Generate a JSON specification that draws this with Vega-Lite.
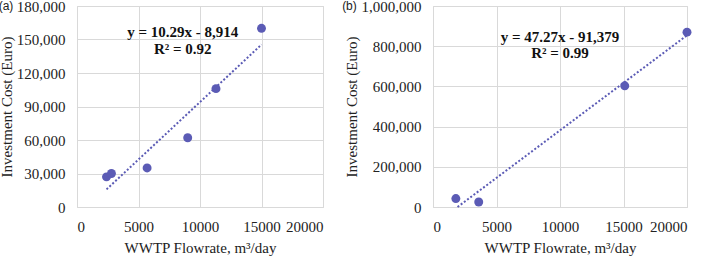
{
  "$schema": "https://vega.github.io/schema/vega-lite/v6.json",
  "padding": {"left": -2, "top": -2, "right": 0, "bottom": 0},
  "spacing": 17,
  "config": {
    "font": "Liberation Serif",
    "view": {"stroke": "#d9d9d9", "strokeWidth": 1},
    "axis": {
      "domain": false, "ticks": false, "grid": true, "gridColor": "#d9d9d9",
      "labelFont": "Liberation Serif", "labelFontSize": 15, "labelColor": "#222",
      "titleFont": "Liberation Serif", "titleFontSize": 15, "titleFontWeight": "normal", "titleColor": "#222",
      "labelPadding": 12
    }
  },
  "datasets": {
    "a_pts": [
      {"flow": 2400, "cost": 27000},
      {"flow": 2800, "cost": 30000},
      {"flow": 5700, "cost": 35000},
      {"flow": 9000, "cost": 62000},
      {"flow": 11300, "cost": 106000},
      {"flow": 15000, "cost": 160000}
    ],
    "a_trend": [
      {"flow": 2400, "cost": 15782},
      {"flow": 15000, "cost": 145436}
    ],
    "a_text": [
      {"flow": 8600, "cost": 156700, "label": "y = 10.29x - 8,914"},
      {"flow": 8600, "cost": 141500, "label": "R² = 0.92"}
    ],
    "a_tag": [{"flow": -5770, "cost": 180000, "label": "(a)"}],
    "b_pts": [
      {"flow": 1800, "cost": 42000},
      {"flow": 3600, "cost": 25000},
      {"flow": 15100, "cost": 603000},
      {"flow": 20000, "cost": 870000}
    ],
    "b_trend": [
      {"flow": 1933, "cost": 0},
      {"flow": 20000, "cost": 854021}
    ],
    "b_text": [
      {"flow": 10000, "cost": 845800, "label": "y = 47.27x - 91,379"},
      {"flow": 10000, "cost": 766000, "label": "R² = 0.99"}
    ],
    "b_tag": [{"flow": -6000, "cost": 1000000, "label": "(b)"}]
  },
  "hconcat": [
    {
      "width": 246, "height": 201,
      "encoding": {
        "x": {"field": "flow", "type": "quantitative",
              "scale": {"domain": [0, 20000], "nice": false},
              "axis": {"values": [0, 5000, 10000, 15000, 20000], "format": "d", "title": "WWTP Flowrate, m³/day", "titlePadding": 6}},
        "y": {"field": "cost", "type": "quantitative",
              "scale": {"domain": [0, 180000], "nice": false},
              "axis": {"values": [0, 30000, 60000, 90000, 120000, 150000, 180000], "format": ",d", "title": "Investment Cost (Euro)", "titlePadding": 2}}
      },
      "layer": [
        {"data": {"name": "a_trend"}, "mark": {"type": "line", "color": "#5b5bb5", "strokeWidth": 2, "strokeDash": [2, 2]}},
        {"data": {"name": "a_pts"}, "mark": {"type": "circle", "color": "#5b5bb5", "opacity": 1, "size": 80}},
        {"data": {"name": "a_text"}, "mark": {"type": "text", "fontWeight": "bold", "fontSize": 15, "color": "#111"}, "encoding": {"text": {"field": "label"}}},
        {"data": {"name": "a_tag"}, "mark": {"type": "text", "font": "Liberation Sans", "fontSize": 12, "color": "#222"}, "encoding": {"text": {"field": "label"}}}
      ]
    },
    {
      "width": 254, "height": 201,
      "encoding": {
        "x": {"field": "flow", "type": "quantitative",
              "scale": {"domain": [0, 20000], "nice": false},
              "axis": {"values": [0, 5000, 10000, 15000, 20000], "format": "d", "title": "WWTP Flowrate, m³/day", "titlePadding": 6}},
        "y": {"field": "cost", "type": "quantitative",
              "scale": {"domain": [0, 1000000], "nice": false},
              "axis": {"values": [0, 200000, 400000, 600000, 800000, 1000000], "format": ",d", "title": "Investment Cost (Euro)", "titlePadding": 2}}
      },
      "layer": [
        {"data": {"name": "b_trend"}, "mark": {"type": "line", "color": "#5b5bb5", "strokeWidth": 2, "strokeDash": [2, 2]}},
        {"data": {"name": "b_pts"}, "mark": {"type": "circle", "color": "#5b5bb5", "opacity": 1, "size": 80}},
        {"data": {"name": "b_text"}, "mark": {"type": "text", "fontWeight": "bold", "fontSize": 15, "color": "#111"}, "encoding": {"text": {"field": "label"}}},
        {"data": {"name": "b_tag"}, "mark": {"type": "text", "font": "Liberation Sans", "fontSize": 12, "color": "#222", "align": "right"}, "encoding": {"text": {"field": "label"}}}
      ]
    }
  ]
}
